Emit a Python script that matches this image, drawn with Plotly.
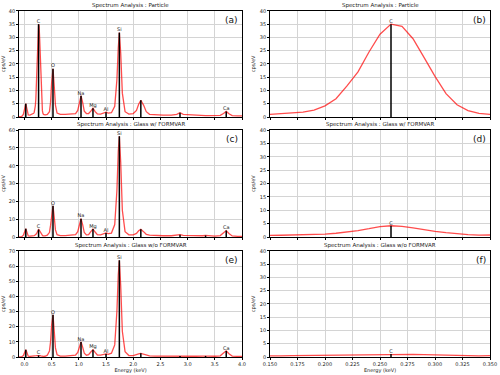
import plotly.graph_objects as go
from plotly.subplots import make_subplots

# Energy channels (keV) shared by the three spectra
ENERGY = [
    -0.10, -0.05, -0.02, 0.00, 0.01, 0.025, 0.04, 0.05, 0.07, 0.10,
    0.13, 0.15, 0.16, 0.17, 0.18, 0.19, 0.20, 0.21, 0.22, 0.23,
    0.24, 0.25, 0.26, 0.27, 0.28, 0.29, 0.30, 0.31, 0.32, 0.33,
    0.34, 0.35, 0.38, 0.42, 0.46, 0.48, 0.50, 0.525, 0.55, 0.57,
    0.60, 0.66, 0.75, 0.85, 0.94, 0.98, 1.01, 1.04, 1.07, 1.10,
    1.14, 1.18, 1.22, 1.26, 1.30, 1.34, 1.40, 1.46, 1.50, 1.54,
    1.60, 1.66, 1.70, 1.725, 1.745, 1.77, 1.80, 1.85, 1.92, 2.00,
    2.06, 2.10, 2.14, 2.19, 2.24, 2.30, 2.40, 2.55, 2.70, 2.80,
    2.86, 2.92, 3.00, 3.15, 3.28, 3.33, 3.38, 3.50, 3.60, 3.66,
    3.71, 3.76, 3.82, 3.92, 4.00,
]

# cps/eV per channel
PARTICLE = [
    0.1, 0.2, 1.0, 3.0, 4.4, 5.0, 3.6, 2.0, 0.8, 0.7,
    0.9, 1.0, 1.2, 1.4, 1.8, 2.6, 4.2, 6.9, 11.7, 17.0,
    24.5, 31.2, 35.0, 34.2, 29.5, 22.5, 15.3, 8.8, 4.6, 2.4,
    1.4, 1.0, 0.8, 1.0, 2.0, 5.5, 13.0, 18.2, 11.0, 4.5,
    1.5, 1.0, 1.0, 1.1, 1.3, 2.5, 5.5, 8.0, 5.5, 2.2,
    1.3, 1.3, 2.2, 3.3, 2.0, 1.2, 1.1, 1.4, 1.8, 1.5,
    1.6, 4.0, 14.0, 26.0, 31.8, 24.0, 9.0, 2.0, 1.1, 1.3,
    2.5, 4.8, 6.3, 4.5, 2.0, 1.0, 0.8, 0.7, 0.7, 1.0,
    1.6, 1.0, 0.9, 0.6, 0.5, 0.5, 0.5, 0.5, 0.6, 1.3,
    2.1, 1.2, 0.5, 0.4, 0.4,
]
GLASS_FORMVAR = [
    0.1, 0.2, 1.0, 3.0, 4.0, 4.6, 3.3, 1.8, 0.6, 0.5,
    0.5, 0.6, 0.65, 0.7, 0.8, 0.95, 1.1, 1.4, 1.8, 2.4,
    3.1, 3.9, 4.2, 4.0, 3.4, 2.7, 2.1, 1.6, 1.2, 0.9,
    0.7, 0.6, 0.6, 1.0, 2.5, 6.5, 13.5, 17.5, 10.5, 4.0,
    1.3, 0.8, 0.8, 0.9, 1.3, 3.0, 7.5, 10.3, 7.0, 2.5,
    1.2, 1.3, 3.0, 4.5, 2.8, 1.3, 1.2, 1.8, 2.3, 1.9,
    2.2, 7.0, 26.0, 48.0, 56.5, 42.0, 15.0, 3.0, 1.2, 1.2,
    2.0, 3.5, 4.3, 3.0, 1.5, 1.0, 0.8, 0.7, 0.7, 0.9,
    1.3, 0.9, 0.8, 0.6, 0.7, 0.9, 0.7, 0.5, 0.8, 2.3,
    3.6, 2.0, 0.6, 0.4, 0.4,
]
GLASS_NO_FORMVAR = [
    0.1, 0.2, 1.0, 3.0, 4.3, 4.8, 3.5, 1.9, 0.5, 0.4,
    0.4, 0.4, 0.45, 0.5, 0.55, 0.6, 0.7, 0.75, 0.85, 0.95,
    1.0, 1.05, 1.1, 1.05, 1.0, 0.9, 0.75, 0.65, 0.55, 0.5,
    0.45, 0.4, 0.5, 1.2, 4.0, 10.0, 21.0, 27.8, 16.0, 6.0,
    1.5, 0.6, 0.6, 0.8, 1.3, 3.0, 7.5, 9.9, 6.5, 2.5,
    1.2, 1.5, 3.3, 4.8, 3.0, 1.3, 1.2, 1.7, 2.0, 1.7,
    2.5, 8.0, 30.0, 54.0, 63.8, 47.0, 17.0, 3.5, 1.0, 0.9,
    1.3, 2.0, 2.4, 1.8, 1.0, 0.7, 0.6, 0.5, 0.5, 0.6,
    0.7, 0.6, 0.5, 0.5, 0.6, 0.7, 0.6, 0.5, 0.8, 2.6,
    4.0, 2.2, 0.6, 0.4, 0.4,
]

# Identified peaks (stems)
PEAK_ENERGY = [0.025, 0.26, 0.525, 1.04, 1.26, 1.50, 1.745, 2.14, 2.86, 3.33, 3.71]
PEAK_LABELS = ["", "C", "O", "Na", "Mg", "Al", "Si", "", "", "", "Ca"]
PEAK_PARTICLE = [5.0, 35.0, 18.2, 8.0, 3.3, 1.8, 31.8, 6.3, 1.6, 0.0, 2.1]
PEAK_GLASS_FORMVAR = [4.6, 4.2, 17.5, 10.3, 4.5, 2.3, 56.5, 4.3, 1.3, 0.9, 3.6]
PEAK_GLASS_NO_FORMVAR = [4.8, 1.1, 27.8, 9.9, 4.8, 2.0, 63.8, 2.4, 0.7, 0.7, 4.0]

TITLES = [
    "Spectrum Analysis : Particle",
    "Spectrum Analysis : Glass w/ FORMVAR",
    "Spectrum Analysis : Glass w/o FORMVAR",
]
LETTERS = [("(a)", "(b)"), ("(c)", "(d)"), ("(e)", "(f)")]
SPECTRA = [PARTICLE, GLASS_FORMVAR, GLASS_NO_FORMVAR]
PEAKS = [PEAK_PARTICLE, PEAK_GLASS_FORMVAR, PEAK_GLASS_NO_FORMVAR]
YMAX_LEFT = [40, 60, 70]
YSTEP_LEFT = [5, 10, 10]
X_RANGES = [[-0.1, 4.0], [0.15, 0.35]]

FONT = "DejaVu Sans"
X_DOM = [[0.038, 0.484], [0.54, 0.98]]
Y_DOM = [[0.688, 0.971], [0.368, 0.653], [0.048, 0.331]]

fig = make_subplots(rows=3, cols=2)

for r in range(3):
    counts, heights = SPECTRA[r], PEAKS[r]
    for c in range(2):
        lo, hi = X_RANGES[c]
        # only the peaks that fall inside this panel's energy window
        peaks = [(e, h, t) for e, h, t in zip(PEAK_ENERGY, heights, PEAK_LABELS)
                 if h > 0 and lo <= e <= hi]
        sx, sy = [], []
        for e, h, _ in peaks:
            sx += [e, e, None]
            sy += [0, h, None]
        labelled = [p for p in peaks if p[2]]
        fig.add_trace(go.Scatter(x=ENERGY, y=counts, mode="lines",
                                 line=dict(color="rgba(255,0,0,0.7)", width=1.3)),
                      row=r + 1, col=c + 1)
        fig.add_trace(go.Scatter(x=sx, y=sy, mode="lines",
                                 line=dict(color="black", width=1.5)),
                      row=r + 1, col=c + 1)
        fig.add_trace(go.Scatter(x=[p[0] for p in labelled], y=[p[1] for p in labelled],
                                 text=[p[2] for p in labelled], mode="text",
                                 textposition="top center",
                                 textfont=dict(size=5, color="#222")),
                      row=r + 1, col=c + 1)

axis_style = dict(showline=True, linecolor="black", linewidth=0.8, mirror=True,
                  showgrid=True, gridcolor="#d4d4d4", gridwidth=0.9, zeroline=False,
                  ticks="outside", ticklen=2, tickwidth=0.6, tickcolor="black",
                  automargin=False, tickfont=dict(size=5, color="#222"))

for r in range(3):
    for c in range(2):
        bottom = r == 2
        if c == 0:
            dt, fmt = 0.5, ".1f"
            ymax, ystep = YMAX_LEFT[r], YSTEP_LEFT[r]
        else:
            dt, fmt = 0.025, ".3f"
            ymax, ystep = 40, 5
        fig.update_xaxes(axis_style, domain=X_DOM[c], range=X_RANGES[c], tick0=0, dtick=dt,
                         tickformat=fmt, showticklabels=bottom,
                         title=dict(text="Energy (keV)" if bottom else "",
                                    font=dict(size=5, color="#222"), standoff=2),
                         row=r + 1, col=c + 1)
        fig.update_yaxes(axis_style, domain=Y_DOM[r], range=[0, ymax], tick0=0, dtick=ystep,
                         title=dict(text="cps/eV", font=dict(size=5, color="#222"), standoff=3),
                         row=r + 1, col=c + 1)
        xref = "x domain" if (r == 0 and c == 0) else f"x{r * 2 + c + 1} domain"
        yref = "y domain" if (r == 0 and c == 0) else f"y{r * 2 + c + 1} domain"
        fig.add_annotation(text=TITLES[r], xref=xref, yref=yref, x=0.5, y=1.0,
                           xanchor="center", yanchor="bottom", showarrow=False,
                           font=dict(size=5.5, color="#222"))
        fig.add_annotation(text=LETTERS[r][c], xref=xref, yref=yref, x=0.99, y=0.98,
                           xanchor="right", yanchor="top", showarrow=False,
                           font=dict(size=9, color="#111"))

fig.update_layout(width=500, height=375, margin=dict(l=0, r=0, t=0, b=0),
                  showlegend=False, plot_bgcolor="white", paper_bgcolor="white",
                  font=dict(family=FONT, color="#222"))

# page body has a default 8px margin; drop it so the figure sits at the window corner
fig.write_html("out.html", config={"displayModeBar": False},
               post_script="document.body.style.margin='0';")
